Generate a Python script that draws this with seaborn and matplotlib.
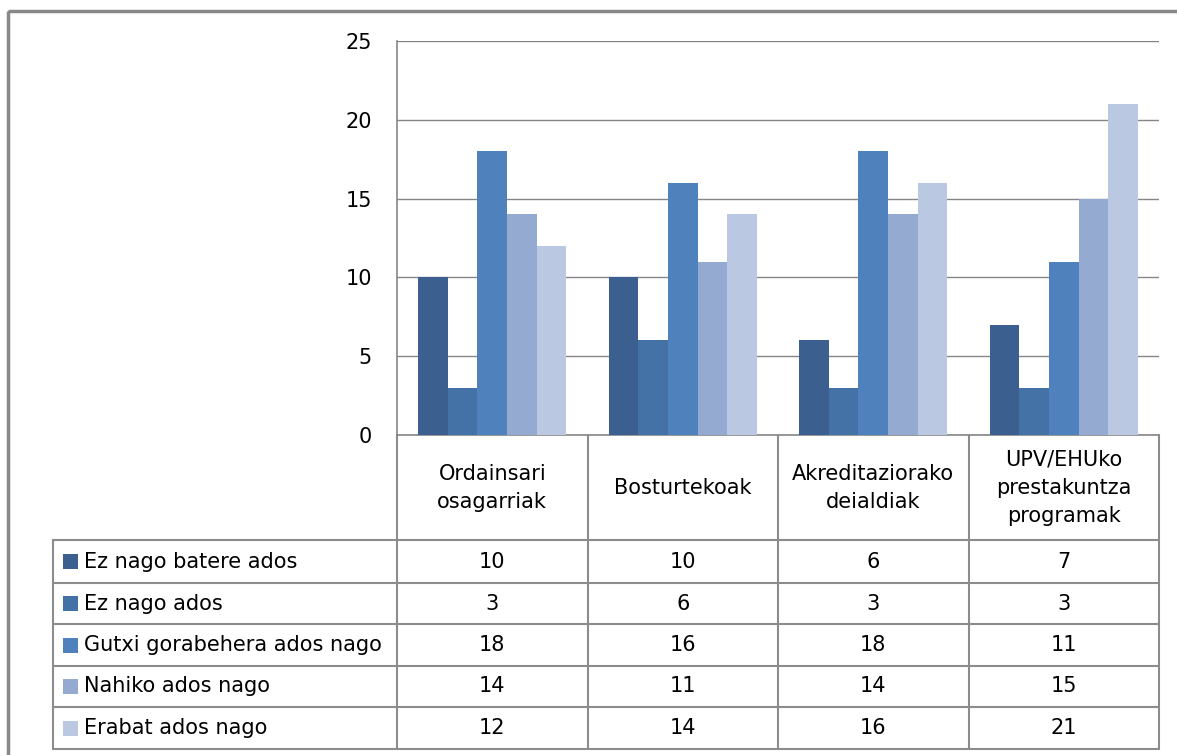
import pandas as pd
import seaborn as sns
import matplotlib.pyplot as plt
from matplotlib.patches import Rectangle

# ----------------------------------
# Data
# ----------------------------------
categories = ['Ordainsari\nosagarriak', 'Bosturtekoak',
              'Akreditaziorako\ndeialdiak', 'UPV/EHUko\nprestakuntza\nprogramak']
series = ['Ez nago batere ados', 'Ez nago ados', 'Gutxi gorabehera ados nago',
          'Nahiko ados nago', 'Erabat ados nago']
ez_batere = [10, 10, 6, 7]
ez_ados = [3, 6, 3, 3]
gutxi_gora = [18, 16, 18, 11]
nahiko = [14, 11, 14, 15]
erabat = [12, 14, 16, 21]
values = [ez_batere, ez_ados, gutxi_gora, nahiko, erabat]
colors = ['#3B5F8E', '#4472A6', '#4F81BD', '#95AAD1', '#BBC8E2']

rows = []
for s, vals in zip(series, values):
    for c, v in zip(categories, vals):
        rows.append({'cat': c, 'series': s, 'value': v})
df = pd.DataFrame(rows)

# ----------------------------------
# Figure / layout (pixel based, 1177x755)
# ----------------------------------
sns.set_style('white')
plt.rcParams['font.family'] = ['DejaVu Sans']
plt.rcParams['text.color'] = 'black'
plt.rcParams['ytick.color'] = 'black'
FS = 15
W, H = 1177, 755
fig = plt.figure(figsize=(W / 100, H / 100), dpi=100)

# plot area in pixels
px_l, px_r, px_t, px_b = 397, 1159, 41, 435
ax = fig.add_axes([px_l / W, (H - px_b) / H, (px_r - px_l) / W, (px_b - px_t) / H])

sns.barplot(data=df, x='cat', y='value', hue='series', order=categories,
            hue_order=series, palette=colors, width=0.777, gap=0,
            saturation=1, legend=False, ax=ax, zorder=3, linewidth=0)
ax.set_xlim(-0.5, len(categories) - 0.5)
ax.set_ylim(0, 25)
ax.set_yticks(range(0, 26, 5))
ax.yaxis.grid(True, color='#868686', linewidth=1.0, zorder=0)
ax.set_axisbelow(True)
ax.set_xticks([])
ax.set_xlabel('')
ax.set_ylabel('')
ax.tick_params(axis='y', length=0, pad=18, labelsize=FS, labelcolor='black')
for side in ['top', 'right']:
    ax.spines[side].set_visible(False)
for side in ['left', 'bottom']:
    ax.spines[side].set_color('#868686')
    ax.spines[side].set_linewidth(1.2)

# ----------------------------------
# Overlay: frame + data table
# ----------------------------------
ov = fig.add_axes([0, 0, 1, 1], zorder=-1)
ov.set_xlim(0, W)
ov.set_ylim(H, 0)
ov.axis('off')
ov.add_patch(Rectangle((8, 11), W + 20, H + 20, fill=False,
                       edgecolor='#888888', linewidth=2.5))

line_c = '#8C8C8C'
tbl_l = 53
row_lines = [540, 583, 624, 666, 707, 749]
col_w = (px_r - px_l) / len(categories)
col_lines = [px_l + i * col_w for i in range(len(categories) + 1)]

# top of header row is the x axis itself
ov.plot([px_l, px_l], [px_b, row_lines[-1]], color=line_c, lw=1.5)
for x in col_lines[1:]:
    ov.plot([x, x], [px_b, row_lines[-1]], color=line_c, lw=1.5)
ov.plot([tbl_l, tbl_l], [row_lines[0], row_lines[-1]], color=line_c, lw=1.5)
for y in row_lines:
    ov.plot([tbl_l, px_r], [y, y], color=line_c, lw=1.5)

# header labels
hdr_y = (px_b + row_lines[0]) / 2
for i, c in enumerate(categories):
    ov.text(px_l + (i + 0.5) * col_w, hdr_y, c, ha='center', va='center',
            fontsize=FS, linespacing=1.5, color='black')

# series rows
for r, (s, vals, col) in enumerate(zip(series, values, colors)):
    yc = (row_lines[r] + row_lines[r + 1]) / 2
    ov.add_patch(Rectangle((63, yc - 7.5), 15, 15, facecolor=col, edgecolor='none'))
    ov.text(84, yc, s, ha='left', va='center', fontsize=FS, color='black')
    for i, v in enumerate(vals):
        ov.text(px_l + (i + 0.5) * col_w, yc, str(v), ha='center', va='center',
                fontsize=FS, color='black')

plt.savefig('out.png', dpi=100)
